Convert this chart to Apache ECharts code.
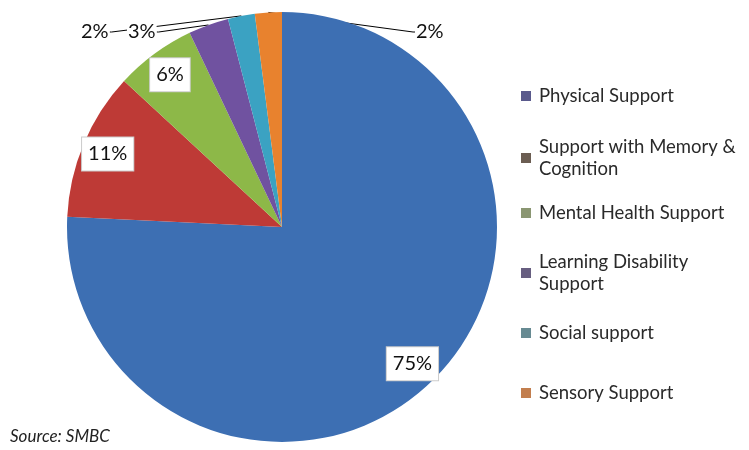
<!DOCTYPE html>
<html><head><meta charset="utf-8">
<script src="https://cdn.jsdelivr.net/npm/echarts@6/dist/echarts.min.js"></script>
<style>html,body{margin:0;padding:0;background:#fff}#c{width:749px;height:450px}</style>
</head><body><div id="c"></div>
<script>
const categories = ['Physical Support','Support with Memory & Cognition','Mental Health Support','Learning Disability Support','Social support','Sensory Support'];
const values = [75, 11, 6, 3, 2, 2];
const labels = ['75%','11%','6%','3%','2%','2%'];
const sliceColors = ['#3d6fb3','#be3a36','#8db848','#7052a0','#3ba2c2','#e8822e'];
const legendColors = ['#5a5a8c','#6b5d52','#8a9672','#675e80','#678a92','#c27e4e'];
const legendTextLines = [['Physical Support'],['Support with Memory &','Cognition'],['Mental Health Support'],['Learning Disability','Support'],['Social support'],['Sensory Support']];
const legendCenters = [96, 158, 213, 273, 333, 393];

const bigIdx = [0,1,2];
const smallLayout = {3:{x:127,y:32}, 4:{x:80,y:32}, 5:{x:415,y:32}};
const font = 'Lato, "Open Sans", sans-serif';

const legends = categories.map((name,i)=>{
  const two = legendTextLines[i].length > 1;
  return {
    orient:'vertical', left:521, top: two ? legendCenters[i]-33 : legendCenters[i]-11,
    padding:0, itemWidth:10, itemHeight:10, selectedMode:false, icon:'rect',
    data:[{name, itemStyle:{color:legendColors[i]}}],
    formatter: ()=> legendTextLines[i].join('\n'),
    textStyle:{fontFamily:font, fontSize:18.5, color:'#2a2a2a', lineHeight:22,
      padding: two ? [22,0,0,3] : [0,0,0,3]}
  };
});

const chart = echarts.init(document.getElementById('c'));
chart.setOption({
  animation:false,
  legend: legends,
  graphic:[{type:'text', left:10, top:428, style:{text:'Source: SMBC', font:'italic 17px '+font, fill:'#222'}}],
  series:[
    {
      type:'pie', center:[282,227], radius:215, startAngle:90, clockwise:true,
      avoidLabelOverlap:false, silent:true,
      data: categories.map((n,i)=>({name:n, value:values[i], itemStyle:{color:sliceColors[i]},
        label: bigIdx.includes(i) ? {show:false} : {show:true},
        labelLine: bigIdx.includes(i) ? {show:false} : {show:true}})),
      label:{position:'outside', formatter:(p)=>labels[p.dataIndex], fontFamily:font, fontSize:20, color:'#111',
        backgroundColor:'#fff', padding:[0,1]},
      labelLine:{show:true, length:2, length2:2, smooth:false, lineStyle:{color:'#000', width:1}},
      labelLayout:(p)=>{
        const s = smallLayout[p.dataIndex];
        if(!s) return {};
        return {x:s.x, y:s.y, align:'left', verticalAlign:'middle'};
      },
      emphasis:{disabled:true}
    },
    {
      type:'pie', center:[282,227], radius:372, startAngle:90, clockwise:true, silent:true,
      avoidLabelOverlap:false,
      data: categories.map((n,i)=>({name:n, value:values[i],
        label:{show: bigIdx.includes(i)}})),
      itemStyle:{color:'rgba(0,0,0,0)'},
      label:{position:'inside', formatter:(p)=>labels[p.dataIndex], fontFamily:font, fontSize:20, color:'#111',
        backgroundColor:'#fff', borderColor:'#ccc', borderWidth:1, padding:[7,6,6,6]},
      labelLine:{show:false},
      emphasis:{disabled:true}
    }
  ]
});
</script></body></html>
